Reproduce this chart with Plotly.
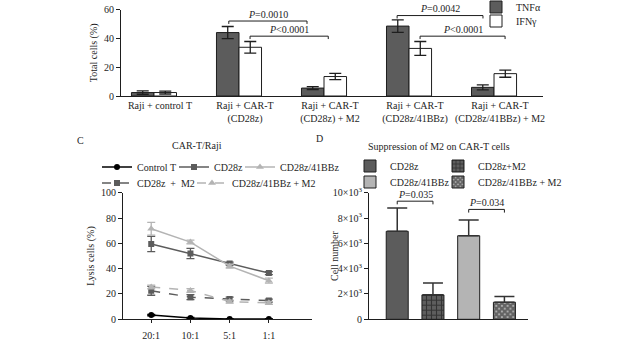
import plotly.graph_objects as go

W, H = 632, 341
FONT = "Liberation Serif"
INK = "#1e1e1e"
DARK = "#5c5c5c"
LIGHT = "#b4b4b4"

# ---------------- Panel (top): cytokine-positive cells ----------------
groups = ["Raji + control T", "Raji + CAR-T<br>(CD28z)", "Raji + CAR-T<br>(CD28z) + M2",
          "Raji + CAR-T<br>(CD28z/41BBz)", "Raji + CAR-T<br>(CD28z/41BBz) + M2"]
tnf = [2.4, 44.0, 5.5, 48.5, 6.0]
tnf_err = [1.2, 4.2, 1.0, 4.3, 1.7]
ifn = [2.4, 33.8, 13.5, 33.0, 15.5]
ifn_err = [1.0, 4.0, 2.2, 4.8, 2.5]
top_yticks = [0, 20, 40, 60]
# brackets: (x_start, x_end, y_level, label)
top_brackets = [(0.88, 1.80, 52.0, "<i>P</i>=0.0010"),
                (1.13, 2.05, 41.5, "<i>P</i><0.0001"),
                (2.86, 3.87, 55.8, "<i>P</i>=0.0042"),
                (3.13, 4.13, 41.5, "<i>P</i><0.0001")]

# ---------------- Panel C: lysis ----------------
ratios = ["20:1", "10:1", "5:1", "1:1"]
control_t = [3.3, 1.0, 0.2, 0.2]
control_t_err = [0.5, 0.5, 0.3, 0.3]
cd28z = [59.5, 52.0, 44.0, 36.5]
cd28z_err = [6.0, 4.0, 1.2, 1.2]
bbz = [71.5, 61.0, 42.0, 30.5]
bbz_err = [5.0, 1.5, 1.5, 2.0]
cd28z_m2 = [22.5, 17.5, 16.0, 14.8]
cd28z_m2_err = [3.5, 2.0, 1.5, 1.2]
bbz_m2 = [25.5, 22.8, 14.0, 13.0]
bbz_m2_err = [1.5, 1.5, 1.2, 1.2]
c_yticks = [0, 20, 40, 60, 80, 100]

# ---------------- Panel D: cell number ----------------
d_groups = ["CD28z", "CD28z+M2", "CD28z/41BBz", "CD28z/41BBz + M2"]
d_vals = [6950, 1930, 6600, 1350]
d_err = [1850, 930, 1250, 450]
d_yticks = [0, 2000, 4000, 6000, 8000, 10000]
d_yticktext = ["0", "2×10<sup>3</sup>", "4×10<sup>3</sup>", "6×10<sup>3</sup>",
               "8×10<sup>3</sup>", "10×10<sup>3</sup>"]
d_brackets = [(0, 1, 9330, "<i>P</i>=0.035"),
              (2, 3, 8680, "<i>P</i>=0.034")]


def px_x(p):
    return p / W


def px_y(p):
    return 1 - p / H


fig = go.Figure()

# top bars
BW = 0.265
fig.add_trace(go.Bar(x=list(range(len(groups))), y=tnf, width=BW, offset=-BW,
                     marker=dict(color=DARK, line=dict(color=INK, width=1)),
                     error_y=dict(type="data", array=tnf_err, color=INK, thickness=1.3, width=6),
                     name="TNFα", legend="legend", xaxis="x", yaxis="y"))
fig.add_trace(go.Bar(x=list(range(len(groups))), y=ifn, width=BW, offset=0,
                     marker=dict(color="white", line=dict(color=INK, width=1)),
                     error_y=dict(type="data", array=ifn_err, color=INK, thickness=1.3, width=6),
                     name="IFNγ", legend="legend2", xaxis="x", yaxis="y"))

# C lines
xs = list(range(len(ratios)))
c_series = [
    ("Control T", control_t, control_t_err, "#000000", "solid", "circle", 6, "legend3", 32),
    ("CD28z", cd28z, cd28z_err, DARK, "solid", "square", 6, "legend3", 21),
    ("CD28z/41BBz", bbz, bbz_err, LIGHT, "solid", "triangle-up", 7, "legend3", None),
    ("CD28z  +  M2", cd28z_m2, cd28z_m2_err, DARK, "dash", "square", 6, "legend4", 50),
    ("CD28z/41BBz + M2", bbz_m2, bbz_m2_err, LIGHT, "dash", "triangle-up", 7, "legend4", None),
]
for name, vals, errs, col, dash, sym, size, lg, lw in c_series:
    kw = {} if lw is None else dict(legendwidth=lw)
    fig.add_trace(go.Scatter(x=xs, y=vals, mode="lines+markers", name=name,
                             line=dict(color=col, width=1.5, dash=dash),
                             marker=dict(symbol=sym, size=size, color=col),
                             error_y=dict(type="data", array=errs, color=col, thickness=1.3, width=4),
                             legend=lg, xaxis="x2", yaxis="y2", **kw))

# D bars
d_styles = [
    dict(color=DARK, pattern=None, lg="legend5", lw=43),
    dict(color="#5e5e5e", pattern=dict(shape="+", fgcolor="#0a0a0a", bgcolor="#5e5e5e",
                                       size=5, solidity=0.4), lg="legend5", lw=None),
    dict(color=LIGHT, pattern=None, lg="legend6", lw=43),
    dict(color="#8a8a8a", pattern=dict(shape="x", fgcolor="#0a0a0a", bgcolor="#bdbdbd",
                                       size=4, solidity=0.8), lg="legend6", lw=None),
]
for i, (name, v, e, st) in enumerate(zip(d_groups, d_vals, d_err, d_styles)):
    mk = dict(color=st["color"], line=dict(color=INK, width=1))
    if st["pattern"] is not None:
        mk["pattern"] = st["pattern"]
    kw = {} if st["lw"] is None else dict(legendwidth=st["lw"])
    fig.add_trace(go.Bar(x=[i], y=[v], width=0.616, name=name, marker=mk,
                         error_y=dict(type="data", symmetric=False, array=[e], arrayminus=[0],
                                      color="#333333", thickness=1.5, width=10),
                         legend=st["lg"], xaxis="x3", yaxis="y3", **kw))

# brackets
shapes = []
annotations = []
for x1, x2, y, lab in top_brackets:
    leg = 2.0
    shapes.append(dict(type="path", xref="x", yref="y",
                       path=f"M{x1},{y - leg} L{x1},{y} L{x2},{y} L{x2},{y - leg}",
                       line=dict(color=INK, width=1)))
    annotations.append(dict(x=(x1 + x2) / 2, y=y, xref="x", yref="y", text=lab, showarrow=False,
                            yanchor="middle", yshift=7, font=dict(size=10, family=FONT, color=INK)))
for x1, x2, y, lab in d_brackets:
    leg = 250
    shapes.append(dict(type="path", xref="x3", yref="y3",
                       path=f"M{x1},{y - leg} L{x1},{y} L{x2},{y} L{x2},{y - leg}",
                       line=dict(color=INK, width=1)))
    annotations.append(dict(x=(x1 + x2) / 2, y=y, xref="x3", yref="y3", text=lab, showarrow=False,
                            yanchor="middle", yshift=7, font=dict(size=10, family=FONT, color=INK)))

# titles and panel letters
for txt, x, y in [("CAR-T/Raji", 197, 145), ("Suppression of M2 on CAR-T cells", 439, 146),
                  ("C", 80, 140), ("D", 319, 138)]:
    annotations.append(dict(x=px_x(x), y=px_y(y), xref="paper", yref="paper", text=txt,
                            showarrow=False, xanchor="center", yanchor="middle",
                            font=dict(size=10, family=FONT, color=INK)))
# D y-axis title placed close to its tick labels
annotations.append(dict(x=px_x(334), y=px_y(256), xref="paper", yref="paper", text="Cell number",
                        textangle=-90, showarrow=False, xanchor="center", yanchor="middle",
                        font=dict(size=10, family=FONT, color=INK)))

axis_common = dict(showline=True, linecolor=INK, linewidth=1, showgrid=False, zeroline=False,
                   tickfont=dict(size=10, family=FONT, color=INK), tickcolor=INK)

ytop_dom = [px_y(96), px_y(9.5)]
ybot_dom = [px_y(319.3), px_y(192.7)]

fig.update_layout(
    width=W, height=H, autosize=False,
    margin=dict(l=0, r=0, t=0, b=0, pad=0, autoexpand=False),
    paper_bgcolor="white", plot_bgcolor="white", barmode="overlay",
    font=dict(family=FONT, size=10, color=INK),
    shapes=shapes, annotations=annotations,
    xaxis=dict(domain=[px_x(121), px_x(543)], range=[-0.388, 4.576], tickvals=list(range(len(groups))),
               ticktext=groups, ticks="", ticklabelshift=6, anchor="y", **axis_common),
    yaxis=dict(domain=ytop_dom, range=[0, 60], tickvals=top_yticks, ticks="outside", ticklen=4,
               title=dict(text="Total cells (%)", font=dict(size=10, family=FONT), standoff=4),
               anchor="x", **axis_common),
    xaxis2=dict(domain=[px_x(123), px_x(312)], range=[-0.72, 4.1], tickvals=xs, ticktext=ratios,
                ticks="outside", ticklen=3, ticklabelstandoff=4, anchor="y2", **axis_common),
    yaxis2=dict(domain=ybot_dom, range=[0, 100], tickvals=c_yticks, ticks="outside", ticklen=4,
                title=dict(text="Lysis cells (%)", font=dict(size=10, family=FONT), standoff=4),
                anchor="x2", **axis_common),
    xaxis3=dict(domain=[px_x(369), px_x(528)], range=[-0.79, 3.66], showticklabels=False, ticks="",
                anchor="y3", **axis_common),
    yaxis3=dict(domain=ybot_dom, range=[0, 10000], tickvals=d_yticks, ticktext=d_yticktext,
                ticks="outside", ticklen=4, anchor="x3", **axis_common),
    showlegend=True,
)

leg_common = dict(orientation="h", xanchor="left", yanchor="middle", bgcolor="rgba(0,0,0,0)",
                  font=dict(size=10, family=FONT, color=INK), tracegroupgap=0)
fig.update_layout(
    legend=dict(x=px_x(476), y=px_y(7), **leg_common),
    legend2=dict(x=px_x(476), y=px_y(21), **leg_common),
    legend3=dict(x=px_x(97), y=px_y(167), **leg_common),
    legend4=dict(x=px_x(97), y=px_y(183), **leg_common),
    legend5=dict(x=px_x(350), y=px_y(166), **leg_common),
    legend6=dict(x=px_x(350), y=px_y(182), **leg_common),
)

fig.write_html("out.html")
